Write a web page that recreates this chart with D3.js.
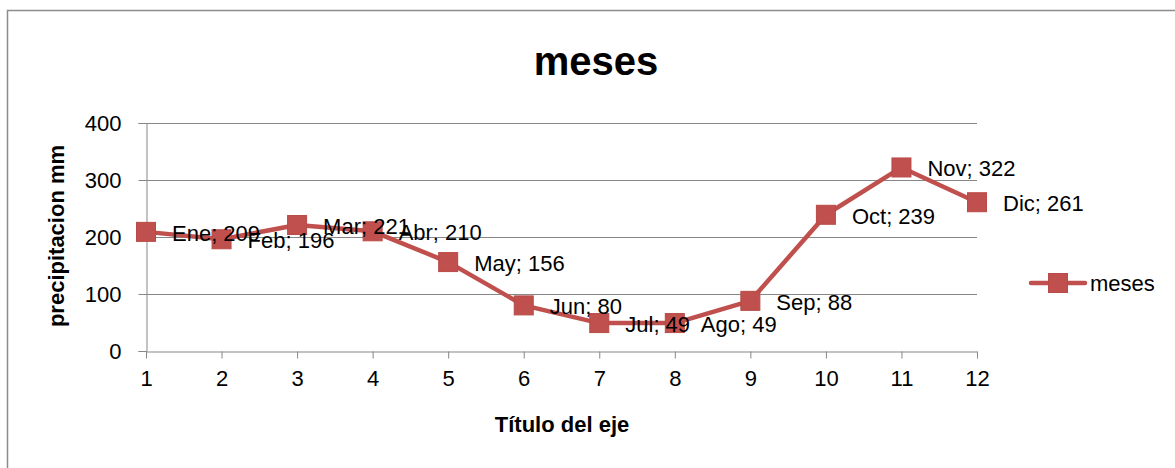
<!DOCTYPE html>
<html><head><meta charset="utf-8">
<script src="https://cdn.jsdelivr.net/npm/d3@7"></script>
<style>
html,body{margin:0;padding:0;background:#fff;}
svg{display:block;font-family:"Liberation Sans",Arial,sans-serif;}
</style></head>
<body><svg id="c" width="1175" height="468"></svg>
<script>
const categories = [1,2,3,4,5,6,7,8,9,10,11,12];
const monthNames = ["Ene","Feb","Mar","Abr","May","Jun","Jul","Ago","Sep","Oct","Nov","Dic"];
const values = [209,196,221,210,156,80,49,49,88,239,322,261];
const yTicks = [0,100,200,300,400];
const seriesName = "meses";
const chartTitle = "meses";
const xTitle = "Título del eje";
const yTitle = "precipitacion mm";

const svg = d3.select("#c");
const color = "#C0504D";
const gridColor = "#878787";

// outer border
svg.append("rect").attr("x",7.5).attr("y",10.5).attr("width",1200).attr("height",500)
  .attr("fill","none").attr("stroke","#8c8c8c").attr("stroke-width",1.5);

const x = d3.scaleLinear().domain([1,12]).range([146,977]);
const y = d3.scaleLinear().domain([0,400]).range([351,123]);

// gridlines
svg.append("g").selectAll("line").data(yTicks.filter(t=>t>0)).join("line")
  .attr("x1",x(1)).attr("x2",x(12))
  .attr("y1",d=>Math.round(y(d))+0.5).attr("y2",d=>Math.round(y(d))+0.5)
  .attr("stroke",gridColor).attr("stroke-width",1);

// y axis
const yAxis = svg.append("g").attr("transform",`translate(${x(1)+0.5},0)`)
  .call(d3.axisLeft(y).tickValues(yTicks).tickSize(8).tickPadding(17));
yAxis.select(".domain").attr("stroke",gridColor);
yAxis.selectAll(".tick line").attr("stroke",gridColor);
yAxis.selectAll(".tick text").attr("font-size",22).attr("fill","#000")
  .attr("font-family","'Liberation Sans',Arial,sans-serif");

// x axis
const xAxis = svg.append("g").attr("transform",`translate(0,${Math.round(y(0))+0.5})`)
  .call(d3.axisBottom(x).tickValues(categories).tickFormat(d3.format("d")).tickSize(7).tickPadding(12).tickSizeOuter(0));
xAxis.select(".domain").attr("stroke",gridColor);
xAxis.selectAll(".tick line").attr("stroke",gridColor);
xAxis.selectAll(".tick text").attr("font-size",22).attr("fill","#000")
  .attr("font-family","'Liberation Sans',Arial,sans-serif");

// line
const data = categories.map((c,i)=>({c, v:values[i], m:monthNames[i]}));
svg.append("path").datum(data)
  .attr("fill","none").attr("stroke",color).attr("stroke-width",4.5)
  .attr("stroke-linejoin","round")
  .attr("d", d3.line().x(d=>x(d.c)).y(d=>y(d.v)));

// markers
const ms = 19;
svg.append("g").selectAll("rect").data(data).join("rect")
  .attr("x",d=>x(d.c)-ms/2).attr("y",d=>y(d.v)-ms/2)
  .attr("width",ms).attr("height",ms)
  .attr("fill",color).attr("stroke","#b84a47").attr("stroke-width",1);

// data labels
svg.append("g").selectAll("text").data(data).join("text")
  .attr("x",d=>x(d.c)+26).attr("y",d=>y(d.v)+1)
  .attr("dy","0.36em").attr("font-size",22).attr("fill","#000")
  .text(d=>`${d.m}; ${d.v}`);

// title
svg.append("text").attr("x",596).attr("y",75).attr("text-anchor","middle")
  .attr("font-size",40).attr("font-weight","bold").text(chartTitle);

// x title
svg.append("text").attr("x",562).attr("y",432).attr("text-anchor","middle")
  .attr("font-size",22).attr("font-weight","bold").text(xTitle);

// y title
svg.append("text").attr("transform","translate(64,236) rotate(-90)")
  .attr("text-anchor","middle").attr("font-size",22).attr("font-weight","bold").text(yTitle);

// legend
const lg = svg.append("g");
lg.append("line").attr("x1",1031).attr("x2",1085).attr("y1",283).attr("y2",283)
  .attr("stroke",color).attr("stroke-width",4.5).attr("stroke-linecap","round");
lg.append("rect").attr("x",1058-ms/2).attr("y",283-ms/2).attr("width",ms).attr("height",ms)
  .attr("fill",color).attr("stroke","#b84a47");
lg.append("text").attr("x",1090).attr("y",283).attr("dy","0.36em")
  .attr("font-size",22).text(seriesName);
</script></body></html>
